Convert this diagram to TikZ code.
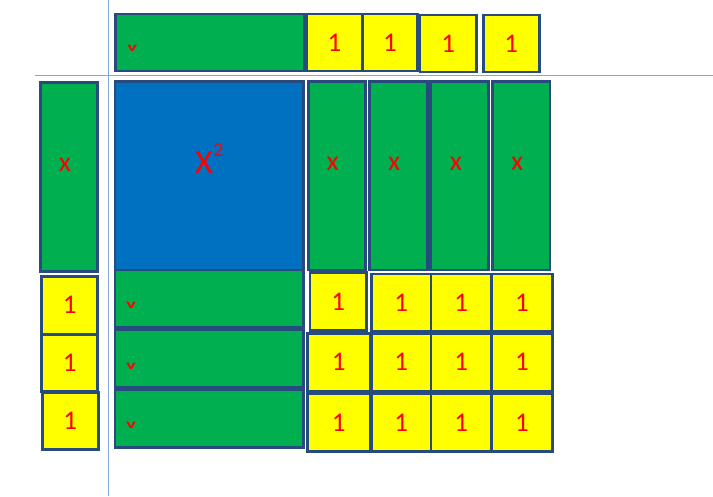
\documentclass[tikz,border=0pt]{standalone}
\usepackage{fontspec}
\setmainfont{Carlito}
\usetikzlibrary{calc}
\definecolor{tilegreen}{RGB}{0,176,80}
\definecolor{tileyellow}{RGB}{255,255,0}
\definecolor{tileblue}{RGB}{0,112,192}
\definecolor{tileedge}{RGB}{40,75,125}
\definecolor{guide}{RGB}{130,168,218}
\begin{document}
\begin{tikzpicture}[x=1pt,y=-1pt,
  tile/.style={draw=tileedge, line width=2.6pt, inner sep=0pt, outer sep=0pt, rectangle},
  sz/.style 2 args={minimum width=#1pt, minimum height=#2pt},
  gtile/.style={tile, fill=tilegreen},
  btile/.style={tile, fill=tileblue},
  ytile/.style={tile, fill=tileyellow, text=red, font=\fontsize{27}{27}\selectfont},
  xlab/.style={text=red, inner sep=0pt, font=\fontsize{28}{28}\selectfont},
  vlab/.style={text=red, inner sep=0pt, font=\bfseries\fontsize{13}{13}\selectfont},
  guideline/.style={draw=guide, line width=1pt}]
\useasboundingbox (0,0) rectangle (713,496);
% guide lines
\coordinate (vtop) at (108,0);
\coordinate (vbot) at (108,496);
\coordinate (hleft) at (35,75);
\coordinate (hright) at (713,75);
\draw[guideline] (vtop) -- (vbot);
\draw[guideline] (hleft) -- (hright);
% top row
\node[gtile, sz={188.3}{57}] (topg) at (209.9,42.5) {};
\node[vlab] (topv) at (132.3,48) {\scalebox{1.6}[1]{v}};
\node[ytile, sz={55.6}{57}] (t1) at (334.5,42.5) {1};
\node[ytile, sz={55.4}{57}] (t2) at (390,42.5) {1};
\node[ytile, sz={56.7}{57}] (t3) at (448.3,43.5) {1};
\node[ytile, sz={56}{57}] (t4) at (511.3,43.5) {1};
% left column
\node[gtile, sz={57}{188.6}] (lg) at (69.2,177) {};
\node[xlab] (lgx) at (65,165) {x};
\node[ytile, sz={56}{57.3}] (ly1) at (69.7,305.3) {1};
\node[ytile, sz={56}{56.7}] (ly2) at (69.7,363.3) {1};
\node[ytile, sz={56}{57}] (ly3) at (70.3,420.8) {1};
% blue square
\node[btile, sz={188.3}{188.3}] (sq) at (209.2,175.9) {};
\node[text=red, inner sep=0pt, anchor=base west] (sqlab) at (195,173.3)
  {\fontsize{34}{34}\selectfont X\kern0.5pt\raisebox{17pt}{\fontsize{20}{20}\selectfont 2}};
% tall green bars
\node[gtile, sz={57.4}{188.3}] (g1) at (337,175.9) {};
\node[gtile, sz={58}{188.3}] (g2) at (398.3,175.9) {};
\node[gtile, sz={57.6}{188.3}] (g3) at (459.5,175.9) {};
\node[gtile, sz={57.7}{188.3}] (g4) at (521.2,175.9) {};
\node[xlab] (g1x) at (332.7,164) {x};
\node[xlab] (g2x) at (394.3,164) {x};
\node[xlab] (g3x) at (456,164) {x};
\node[xlab] (g4x) at (517.3,164) {x};
% horizontal green bars
\node[gtile, sz={188.3}{57.3}] (b1) at (209.2,298.7) {};
\node[gtile, sz={188.3}{58}] (b2) at (209.2,358.3) {};
\node[gtile, sz={188.3}{57.3}] (b3) at (209.2,418.7) {};
\node[vlab] (b1v) at (131,305.7) {\scalebox{1.6}[1]{v}};
\node[vlab] (b2v) at (131,366) {\scalebox{1.6}[1]{v}};
\node[vlab] (b3v) at (131,425) {\scalebox{1.6}[1]{v}};
% unit grid
\node[ytile, sz={56.7}{58}] (r11) at (338.3,301.7) {1};
\node[ytile, sz={59.3}{57.7}] (r12) at (401.3,302.8) {1};
\node[ytile, sz={60.7}{57.7}] (r13) at (461.3,302.8) {1};
\node[ytile, sz={60.6}{57.7}] (r14) at (522,302.8) {1};
\node[ytile, sz={62.3}{57.7}] (r21) at (338.8,362.2) {1};
\node[ytile, sz={59.3}{57.7}] (r22) at (401.3,362.2) {1};
\node[ytile, sz={60.7}{57.7}] (r23) at (461.3,362.2) {1};
\node[ytile, sz={60.6}{57.7}] (r24) at (522,362.2) {1};
\node[ytile, sz={62.3}{58.4}] (r31) at (338.8,422.5) {1};
\node[ytile, sz={59.3}{58.4}] (r32) at (401.3,422.5) {1};
\node[ytile, sz={60.7}{58.4}] (r33) at (461.3,422.5) {1};
\node[ytile, sz={60.6}{58.4}] (r34) at (522,422.5) {1};
\end{tikzpicture}
\end{document}
